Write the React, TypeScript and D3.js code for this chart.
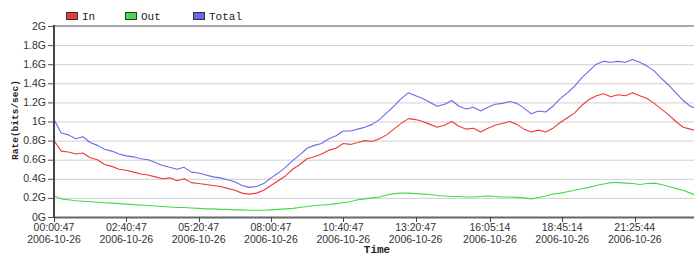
import React, { useEffect, useRef } from 'react';
import * as d3 from 'd3';

// one sample every 16 minutes starting 00:00:47
const STEP_MIN = 16;

const inRate = [
  0.80, 0.69, 0.68, 0.66, 0.67, 0.62, 0.60, 0.55, 0.53, 0.50,
  0.49, 0.47, 0.45, 0.44, 0.42, 0.40, 0.41, 0.38, 0.40, 0.36,
  0.35, 0.34, 0.33, 0.32, 0.30, 0.28, 0.25, 0.24, 0.25, 0.28,
  0.33, 0.38, 0.43, 0.50, 0.55, 0.61, 0.63, 0.66, 0.70, 0.72,
  0.77, 0.76, 0.78, 0.80, 0.79, 0.82, 0.86, 0.92, 0.98, 1.03,
  1.02, 1.00, 0.97, 0.94, 0.96, 1.00, 0.95, 0.92, 0.93, 0.89,
  0.93, 0.96, 0.98, 1.00, 0.97, 0.92, 0.89, 0.91, 0.89, 0.93,
  0.99, 1.04, 1.09, 1.17, 1.23, 1.27, 1.29, 1.26, 1.28, 1.27,
  1.30, 1.27, 1.24, 1.19, 1.13, 1.07, 1.00, 0.94, 0.92, 0.90,
];

const outRate = [
  0.22, 0.19, 0.18, 0.17, 0.165, 0.16, 0.155, 0.15, 0.145, 0.14,
  0.135, 0.13, 0.125, 0.12, 0.115, 0.11, 0.105, 0.10, 0.10, 0.095,
  0.09, 0.085, 0.085, 0.08, 0.08, 0.075, 0.075, 0.07, 0.07, 0.07,
  0.075, 0.08, 0.085, 0.09, 0.10, 0.11, 0.12, 0.125, 0.13, 0.14,
  0.15, 0.16, 0.18, 0.19, 0.20, 0.21, 0.23, 0.245, 0.25, 0.25,
  0.245, 0.24, 0.235, 0.225, 0.22, 0.215, 0.215, 0.21, 0.21, 0.215,
  0.22, 0.215, 0.21, 0.21, 0.205, 0.20, 0.19, 0.205, 0.22, 0.24,
  0.25, 0.265, 0.28, 0.295, 0.31, 0.33, 0.345, 0.36, 0.36, 0.355,
  0.35, 0.34, 0.35, 0.355, 0.34, 0.32, 0.30, 0.28, 0.25, 0.22,
];

const totalRate = [
  1.02, 0.88, 0.86, 0.82, 0.84, 0.78, 0.75, 0.71, 0.69, 0.66,
  0.64, 0.63, 0.61, 0.60, 0.57, 0.54, 0.52, 0.50, 0.52, 0.47,
  0.46, 0.44, 0.42, 0.41, 0.39, 0.37, 0.33, 0.31, 0.32, 0.35,
  0.41, 0.46, 0.52, 0.59, 0.65, 0.72, 0.75, 0.77, 0.82, 0.85,
  0.90, 0.90, 0.92, 0.94, 0.97, 1.02, 1.09, 1.16, 1.24, 1.30,
  1.27, 1.24, 1.20, 1.16, 1.18, 1.22, 1.16, 1.13, 1.15, 1.11,
  1.15, 1.18, 1.19, 1.21, 1.19, 1.14, 1.08, 1.11, 1.10, 1.16,
  1.24, 1.30, 1.37, 1.46, 1.53, 1.60, 1.63, 1.62, 1.63, 1.62,
  1.65, 1.62, 1.58, 1.53, 1.45, 1.38, 1.30, 1.22, 1.16, 1.13,
];

// tick positions in minutes after 00:00:47
const tickMinutes = [0, 160, 320, 480, 640, 800, 964.45, 1124.45, 1284.95];
const tickTimes = ['00:00:47', '02:40:47', '05:20:47', '08:00:47', '10:40:47', '13:20:47', '16:05:14', '18:45:14', '21:25:44'];
const tickDate = '2006-10-26';

const yTicks = [0, 0.2, 0.4, 0.6, 0.8, 1, 1.2, 1.4, 1.6, 1.8, 2];

const seriesNames = ['In', 'Out', 'Total'];
const seriesColors = ['#ee3a3a', '#4ad94a', '#6a6ae8'];

const App: React.FC = () => {
  const svgRef = useRef<SVGSVGElement>(null);

  useEffect(() => {
    if (!svgRef.current) return;
    document.body.style.margin = '0';

    const width = 694;
    const height = 255;
    const left = 54, right = 694, top = 26, bottom = 217;

    const svg = d3.select(svgRef.current);
    svg.selectAll('*').remove();
    svg.attr('width', width).attr('height', height);

    const x = d3.scaleLinear().domain([0, 1416]).range([left, right]);
    const y = d3.scaleLinear().domain([0, 2]).range([bottom, top]);

    // grid
    svg.append('g')
      .selectAll('line')
      .data(yTicks.slice(1, -1))
      .join('line')
      .attr('x1', left).attr('x2', right)
      .attr('y1', d => y(d) + 0.5).attr('y2', d => y(d) + 0.5)
      .attr('stroke', '#cfcfcf')
      .attr('stroke-width', 1);

    // top border
    svg.append('line')
      .attr('x1', left).attr('x2', right)
      .attr('y1', y(2)).attr('y2', y(2))
      .attr('stroke', '#8a8a8a').attr('stroke-width', 1.5);

    // y ticks
    const yg = svg.append('g');
    yg.selectAll('line')
      .data(yTicks)
      .join('line')
      .attr('x1', left - 6).attr('x2', left)
      .attr('y1', d => y(d) + 0.5).attr('y2', d => y(d) + 0.5)
      .attr('stroke', '#555');
    yg.selectAll('text')
      .data(yTicks)
      .join('text')
      .attr('x', left - 8)
      .attr('y', d => y(d) + 3.5)
      .attr('text-anchor', 'end')
      .attr('font-family', 'Liberation Sans, Arial, sans-serif')
      .attr('font-size', 10.5)
      .attr('fill', '#333')
      .text(d => (d === 0 ? '0G' : `${d3.format('.1~f')(d)}G`));

    // lines
    const series = [inRate, outRate, totalRate];
    const line = d3.line<number>()
      .x((_, i) => x(i * STEP_MIN))
      .y(d => y(d));

    svg.append('defs').append('clipPath').attr('id', 'plotclip')
      .append('rect').attr('x', left).attr('y', top).attr('width', right - left).attr('height', bottom - top);

    const lg = svg.append('g').attr('clip-path', 'url(#plotclip)');
    series.forEach((s, k) => {
      lg.append('path')
        .datum(s)
        .attr('d', line)
        .attr('fill', 'none')
        .attr('stroke', seriesColors[k])
        .attr('stroke-width', 1.1)
        .attr('stroke-linejoin', 'round');
    });

    // axes
    svg.append('line')
      .attr('x1', left).attr('x2', right)
      .attr('y1', bottom + 0.5).attr('y2', bottom + 0.5)
      .attr('stroke', '#666').attr('stroke-width', 2);
    svg.append('line')
      .attr('x1', left).attr('x2', left)
      .attr('y1', top - 1).attr('y2', bottom + 1)
      .attr('stroke', '#444').attr('stroke-width', 2);

    // x ticks
    const xg = svg.append('g');
    xg.selectAll('line')
      .data(tickMinutes)
      .join('line')
      .attr('x1', d => Math.round(x(d)) + 0.5).attr('x2', d => Math.round(x(d)) + 0.5)
      .attr('y1', bottom).attr('y2', bottom + 5)
      .attr('stroke', '#444');
    const xt = xg.selectAll('text')
      .data(tickMinutes)
      .join('text')
      .attr('text-anchor', 'middle')
      .attr('font-family', 'Liberation Sans, Arial, sans-serif')
      .attr('font-size', 10.5)
      .attr('fill', '#333');
    xt.append('tspan')
      .attr('x', d => x(d)).attr('y', 231)
      .text((_, i) => tickTimes[i]);
    xt.append('tspan')
      .attr('x', d => x(d)).attr('y', 243)
      .text(tickDate);

    // axis titles
    svg.append('text')
      .attr('transform', `translate(18,120) rotate(-90)`)
      .attr('text-anchor', 'middle')
      .attr('font-family', 'Liberation Mono, Courier New, monospace')
      .attr('font-weight', 'bold')
      .attr('font-size', 9.5)
      .attr('fill', '#222')
      .text('Rate(bits/sec)');
    svg.append('text')
      .attr('x', 377).attr('y', 253)
      .attr('text-anchor', 'middle')
      .attr('font-family', 'Liberation Mono, Courier New, monospace')
      .attr('font-weight', 'bold')
      .attr('font-size', 11)
      .attr('fill', '#222')
      .text('Time');

    // legend
    const legendX = [66, 125, 193];
    const leg = svg.append('g');
    seriesNames.forEach((name, k) => {
      leg.append('rect')
        .attr('x', legendX[k] + 0.5).attr('y', 12.5)
        .attr('width', 11).attr('height', 7)
        .attr('fill', seriesColors[k])
        .attr('stroke', '#333').attr('stroke-width', 1);
      leg.append('text')
        .attr('x', legendX[k] + 16).attr('y', 20)
        .attr('font-family', 'Liberation Mono, Courier New, monospace')
        .attr('font-size', 11)
        .attr('fill', '#222')
        .text(name);
    });
  }, []);

  return <svg ref={svgRef} style={{ display: 'block' }}></svg>;
};

export default App;
